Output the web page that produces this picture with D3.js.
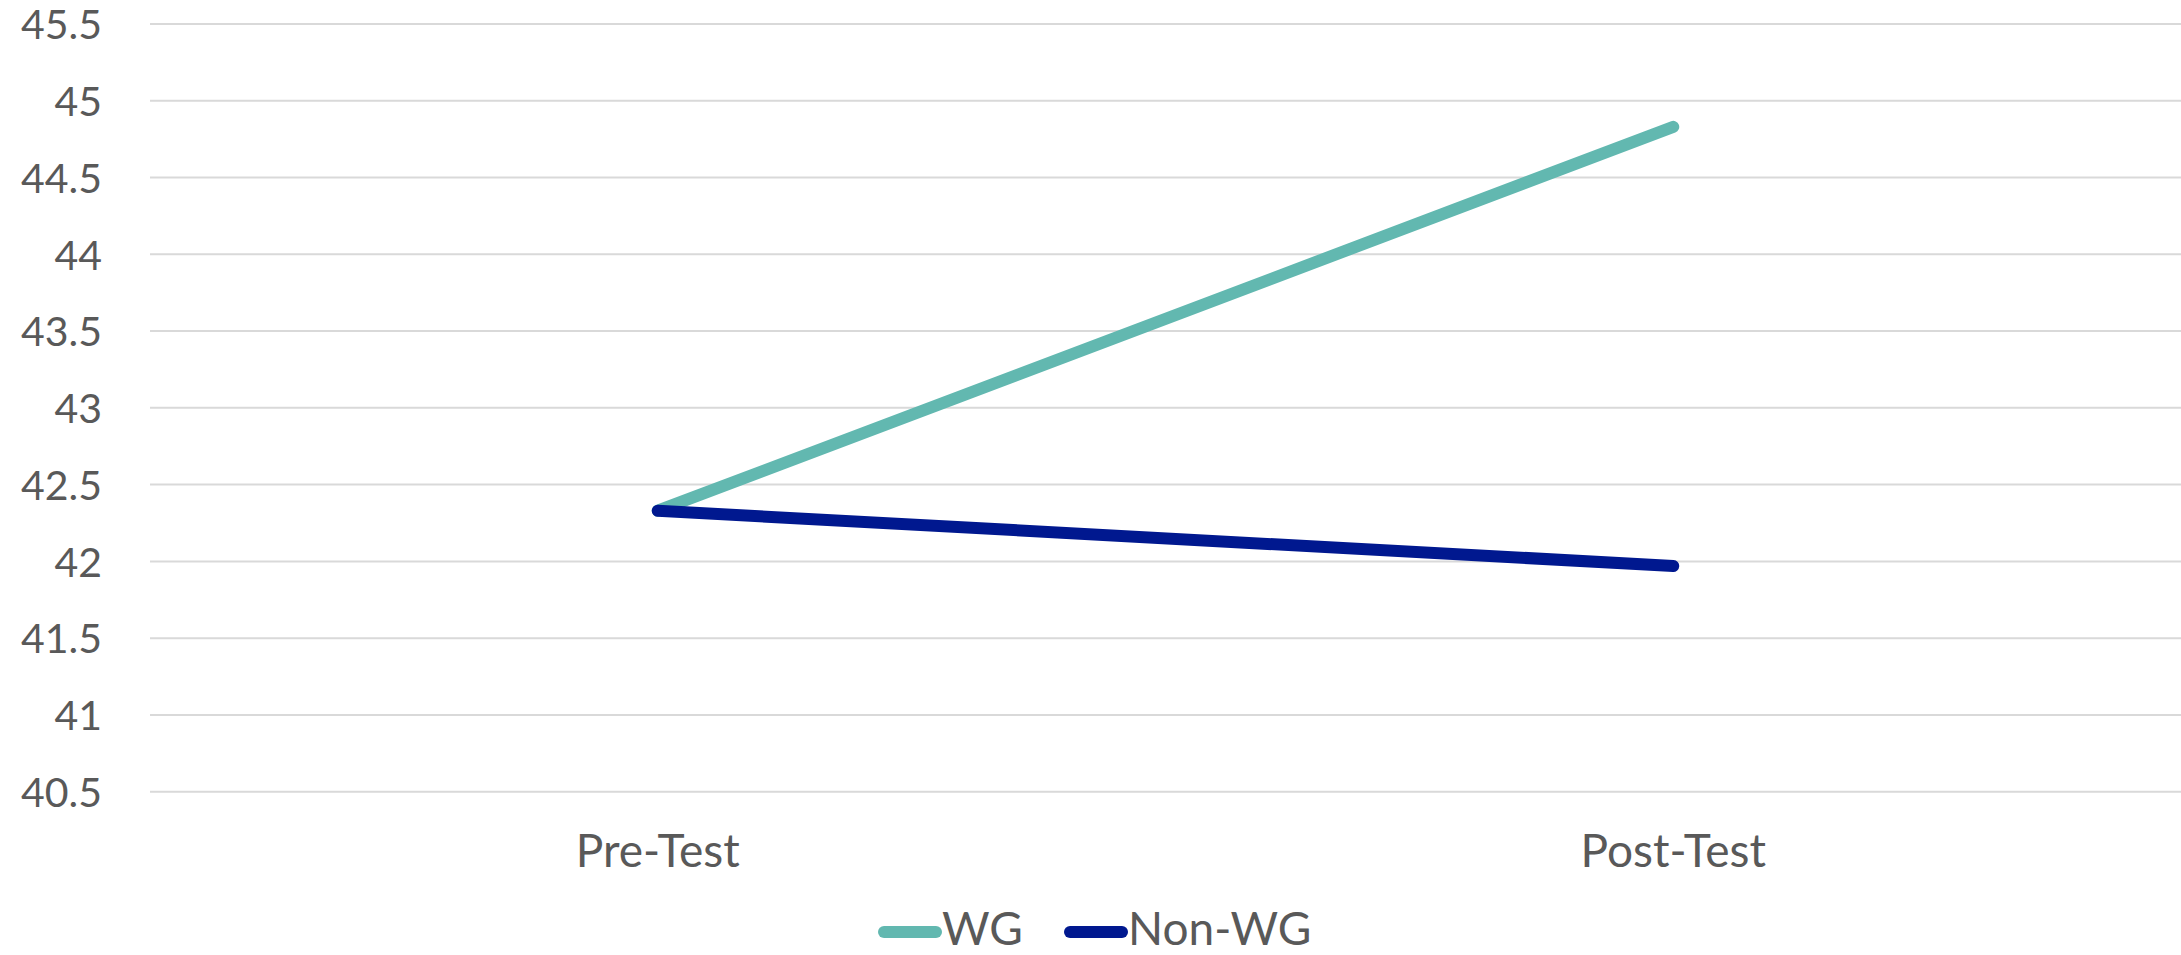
<!DOCTYPE html>
<html>
<head>
<meta charset="utf-8">
<script src="https://cdn.jsdelivr.net/npm/d3@7"></script>
<style>
  html, body { margin: 0; padding: 0; background: #fff; }
  svg { display: block; }
  text { font-family: "Lato", "Open Sans", sans-serif; fill: #595959; }
</style>
</head>
<body>
<svg id="chart" width="2181" height="955"></svg>
<script>
// Test phases on the x axis
const categories = ["Pre-Test", "Post-Test"];
// Mean scores per group
const wgValues = [42.33, 44.83];
const nonWgValues = [42.33, 41.97];
const seriesNames = ["WG", "Non-WG"];
const seriesColors = ["#62B8B0", "#00188F"];
// Y axis ticks
const yTicks = [40.5, 41, 41.5, 42, 42.5, 43, 43.5, 44, 44.5, 45, 45.5];

const series = [
  { name: seriesNames[0], color: seriesColors[0], values: wgValues },
  { name: seriesNames[1], color: seriesColors[1], values: nonWgValues }
];

const svg = d3.select("#chart");
const plot = { left: 150, right: 2181, top: 24, bottom: 791.7 };

const x = d3.scaleBand().domain(categories).range([plot.left, plot.right]);
const y = d3.scaleLinear().domain([40.5, 45.5]).range([plot.bottom, plot.top]);

// Horizontal gridlines
svg.append("g")
  .selectAll("line")
  .data(yTicks)
  .join("line")
  .attr("x1", plot.left)
  .attr("x2", plot.right)
  .attr("y1", d => y(d))
  .attr("y2", d => y(d))
  .attr("stroke", "#D9D9D9")
  .attr("stroke-width", 2);

// Y axis labels
const yAxis = d3.axisLeft(y).tickValues(yTicks).tickSize(0).tickPadding(0)
  .tickFormat(d => d3.format("~g")(d));
const gy = svg.append("g").attr("transform", "translate(102,0)").call(yAxis);
gy.select(".domain").remove();
gy.selectAll("text")
  .attr("font-size", 41)
  .attr("font-family", null)
  .attr("fill", "#595959")
  .attr("dy", "0.36em");

// X axis labels
const xAxis = d3.axisBottom(x).tickSize(0).tickPadding(0);
const gx = svg.append("g").attr("transform", "translate(0,834)").call(xAxis);
gx.select(".domain").remove();
gx.selectAll("text")
  .attr("font-size", 46)
  .attr("font-family", null)
  .attr("fill", "#595959")
  .attr("dy", "0.71em");

// Series lines
const line = d3.line()
  .x((d, i) => x(categories[i]) + x.bandwidth() / 2)
  .y(d => y(d));

svg.append("g")
  .selectAll("path")
  .data(series)
  .join("path")
  .attr("d", d => line(d.values))
  .attr("fill", "none")
  .attr("stroke", d => d.color)
  .attr("stroke-width", 12)
  .attr("stroke-linecap", "round")
  .attr("stroke-linejoin", "round");

// Legend
const legendItems = [
  { s: series[0], x0: 878 },
  { s: series[1], x0: 1064 }
];
const lg = svg.append("g");
legendItems.forEach(item => {
  lg.append("line")
    .attr("x1", item.x0 + 6).attr("x2", item.x0 + 58)
    .attr("y1", 932).attr("y2", 932)
    .attr("stroke", item.s.color)
    .attr("stroke-width", 12)
    .attr("stroke-linecap", "round");
  lg.append("text")
    .attr("x", item.x0 + 64)
    .attr("y", 945)
    .attr("font-size", 46)
    .text(item.s.name);
});
</script>
</body>
</html>
